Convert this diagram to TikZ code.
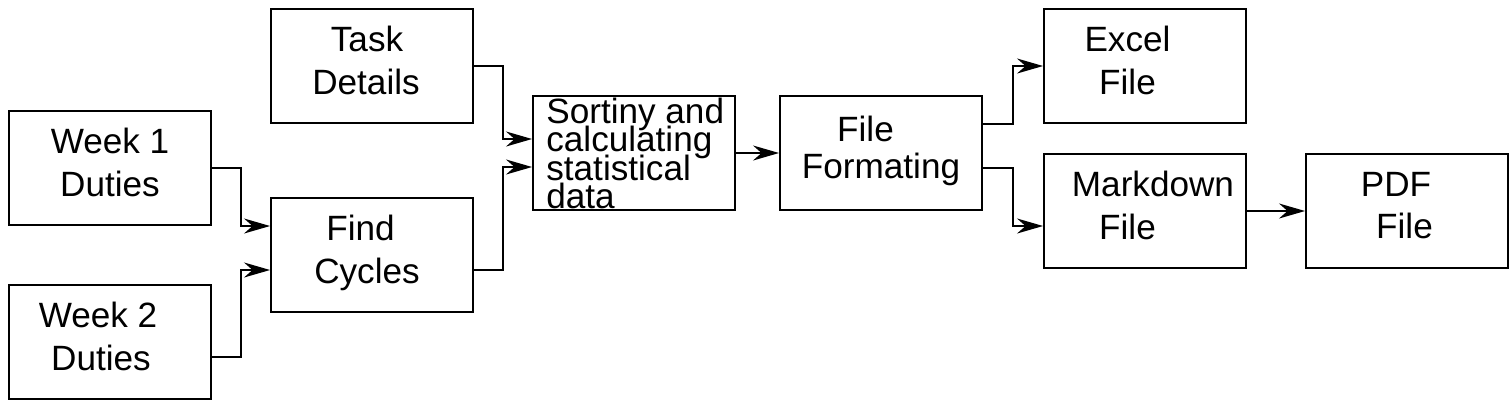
\documentclass[tikz,border=0pt]{standalone}
\usepackage{fontspec}
\setmainfont{Liberation Sans}
\usetikzlibrary{arrows.meta,positioning,calc}
\newcommand{\tightlines}{\lineskiplimit=-20pt\relax}
\newcommand{\nudge}[2]{\hspace*{#1}#2\hspace*{-#1}}
\tikzset{
  >={Stealth[length=5.2mm,width=3mm,inset=1.7mm]},
  flow/.style={->,draw=black,line width=1.1pt},
  stage/.style={draw=black,line width=1.1pt,minimum width=4.04cm,minimum height=2.28cm,inner sep=0pt,align=center,text depth=6.6pt,font=\fontsize{20}{24}\selectfont},
  packed/.style={inner sep=0pt,align=left,font={\fontsize{20}{16}\selectfont\tightlines}},
}

\begin{document}
\begin{tikzpicture}[x=0.02cm,y=-0.02cm]
\useasboundingbox (0,0) rectangle (1512,407);

% inputs ----------------------------------------------------------------------
\node[stage] (week1) at (110,168) {Week 1\\Duties};
\node[stage] (week2) at (110,342) {\nudge{-0.24cm}{Week 2}\\\nudge{-0.18cm}{Duties}};
\node[stage] (task) at (372,66) {\nudge{-0.1cm}{Task}\\\nudge{-0.12cm}{Details}};
\node[stage] (find) at (372,255) {\nudge{-0.23cm}{Find}\\\nudge{-0.1cm}{Cycles}};

\draw[flow] (week1.east) -- ++(29,0) |- ([yshift=0.58cm]find.west);
\draw[flow] ([yshift=-0.3cm]week2.east) -- ++(29,0) |- ([yshift=-0.3cm]find.west);

% processing --------------------------------------------------------------------
\node[stage] (sort) at (634,153) {};
\node[packed,anchor=north west] (sorttxt) at (546,98) {Sortiny and\\calculating\\statistical\\data};
\node[stage] (form) at (881,153) {\nudge{-0.31cm}{File}\\[-0.12cm]Formating};

\draw[flow] (task.east) -- ++(29,0) |- ([yshift=0.28cm]sort.west);
\draw[flow] ([yshift=-0.3cm]find.east) -- ++(29,0) |- ([yshift=-0.28cm]sort.west);
\draw[flow] (sort) -- (form);

% outputs -----------------------------------------------------------------------
\node[stage] (excel) at (1145,66) {\nudge{-0.35cm}{Excel}\\\nudge{-0.35cm}{File}};
\node[stage] (mark) at (1145,211) {\nudge{0.16cm}{Markdown}\\\nudge{-0.35cm}{File}};
\node[stage] (pdf) at (1407,211) {\nudge{-0.22cm}{PDF}\\\nudge{-0.05cm}{File}};

\draw[flow] ([yshift=0.58cm]form.east) -- ++(30,0) |- (excel.west);
\draw[flow] ([yshift=-0.3cm]form.east) -- ++(30,0) |- ([yshift=-0.3cm]mark.west);
\draw[flow] (mark) -- (pdf);

\end{tikzpicture}
\end{document}
